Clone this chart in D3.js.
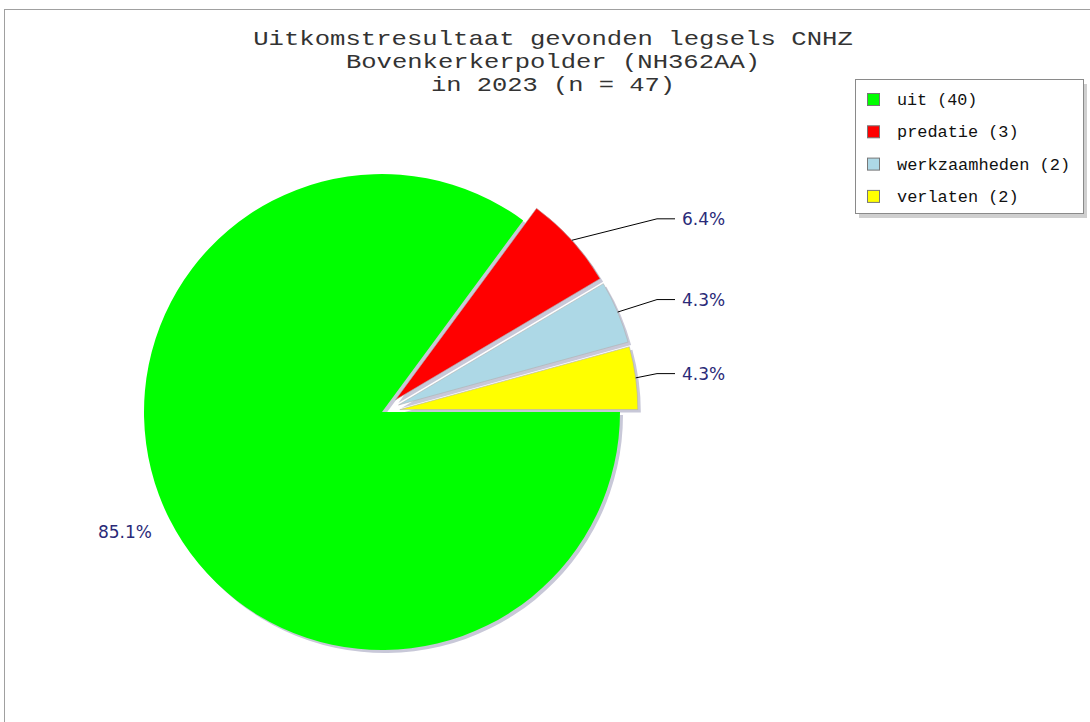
<!DOCTYPE html>
<html>
<head>
<meta charset="utf-8">
<script src="https://cdn.jsdelivr.net/npm/d3@7"></script>
<style>
  html, body { margin: 0; padding: 0; background: #ffffff; }
  svg { display: block; }
</style>
</head>
<body>
<svg id="chart" width="1090" height="722"></svg>
<script>
// ---- data ----
const titleLines = ["Uitkomstresultaat gevonden legsels CNHZ", "Bovenkerkerpolder (NH362AA)", "in 2023 (n = 47)"];
const categories = ["uit", "predatie", "werkzaamheden", "verlaten"];
const counts = [40, 3, 2, 2];
const colors = ["#00ff00", "#ff0000", "#add8e6", "#ffff00"];
const explodeFlags = [false, true, true, true];

// ---- layout ----
const svg = d3.select("#chart");
const W = 1090, H = 722;
const cx = 382, cy = 412, R = 238;
const explodeDist = 18;
const total = d3.sum(counts);
const data = categories.map((c, i) => ({ name: c, value: counts[i], color: colors[i], explode: explodeFlags[i] }));

// outer border of image
svg.append("rect").attr("x", 4.5).attr("y", 9.5).attr("width", W + 10).attr("height", H + 10)
  .attr("fill", "#ffffff").attr("stroke", "#a0a0a0").attr("stroke-width", 1);

// title
const titleG = svg.append("g");
titleLines.forEach((t, i) => {
  titleG.append("text")
    .attr("x", 553).attr("y", 45 + i * 23)
    .attr("text-anchor", "middle")
    .attr("font-family", "Liberation Mono, monospace")
    .attr("font-size", 21)
    .attr("fill", "#333")
    .attr("textLength", t.length * 15.45 - 3)
    .attr("lengthAdjust", "spacingAndGlyphs")
    .text(t);
});

// pie
const pie = d3.pie().sort(null).value(d => d.value)
  .startAngle(Math.PI / 2).endAngle(Math.PI / 2 + 2 * Math.PI);
const arcs = pie(data);
const arcGen = d3.arc().innerRadius(0).outerRadius(R);

function offset(d) {
  if (!d.data.explode) return [0, 0];
  const mid = (d.startAngle + d.endAngle) / 2;
  return [explodeDist * Math.sin(mid), -explodeDist * Math.cos(mid)];
}

const pieG = svg.append("g").attr("transform", `translate(${cx},${cy})`);
// shadows
pieG.selectAll("path.shadow").data(arcs).enter().append("path")
  .attr("class", "shadow")
  .attr("d", arcGen)
  .attr("fill", "#c8c8d8")
  .attr("transform", d => { const o = offset(d); return `translate(${o[0] + 3},${o[1] + 3})`; });
// slices
pieG.selectAll("path.slice").data(arcs).enter().append("path")
  .attr("class", "slice")
  .attr("d", arcGen)
  .attr("fill", d => d.data.color)
  .attr("stroke", d => d.data.explode ? "#b0b0b0" : "none")
  .attr("stroke-width", 0.6)
  .attr("transform", d => { const o = offset(d); return `translate(${o[0]},${o[1]})`; });

// labels
const fmt = v => (v / total * 100).toFixed(1) + "%";
const labelG = svg.append("g");
arcs.forEach(d => {
  const mid = (d.startAngle + d.endAngle) / 2;
  const o = offset(d);
  const sx = Math.sin(mid), sy = -Math.cos(mid);
  const right = sx > 0;
  if (right) {
    const px = cx + o[0] + R * sx, py = cy + o[1] + R * sy;
    const ly = cy + 288 * sy;
    const ex = cx + 275, hx = cx + 293;
    labelG.append("path")
      .attr("d", `M${px},${py}L${ex},${ly}L${hx},${ly}`)
      .attr("fill", "none").attr("stroke", "#000").attr("stroke-width", 1);
    labelG.append("text")
      .attr("x", hx + 7).attr("y", ly + 6)
      .attr("font-family", "DejaVu Sans, sans-serif").attr("font-size", 17)
      .attr("fill", "#2a2a78")
      .text(fmt(d.data.value));
  } else {
    const ly = cy + 265 * sy;
    labelG.append("text")
      .attr("x", cx - 230).attr("y", ly + 6)
      .attr("text-anchor", "end")
      .attr("font-family", "DejaVu Sans, sans-serif").attr("font-size", 17)
      .attr("fill", "#2a2a78")
      .text(fmt(d.data.value));
  }
});

// legend
const lx = 855, ly0 = 79, lw = 228, lh = 134;
const legG = svg.append("g");
legG.append("rect").attr("x", lx + 4).attr("y", ly0 + 5).attr("width", lw).attr("height", lh)
  .attr("fill", "#cfcfcf");
legG.append("rect").attr("x", lx + 0.5).attr("y", ly0 + 0.5).attr("width", lw).attr("height", lh)
  .attr("fill", "#ffffff").attr("stroke", "#8a8a8a").attr("stroke-width", 1);
data.forEach((d, i) => {
  const ry = 100 + i * 32.3;
  legG.append("rect").attr("x", 867.5).attr("y", ry - 6.5).attr("width", 12).attr("height", 12)
    .attr("fill", d.color).attr("stroke", "#777").attr("stroke-width", 1);
  const t = `${d.name} (${d.value})`;
  legG.append("text").attr("x", 897).attr("y", ry + 5)
    .attr("font-family", "Liberation Mono, monospace").attr("font-size", 16)
    .attr("fill", "#111")
    .attr("textLength", t.length * 10.3 - 2)
    .attr("lengthAdjust", "spacingAndGlyphs")
    .text(t);
});
</script>
</body>
</html>
